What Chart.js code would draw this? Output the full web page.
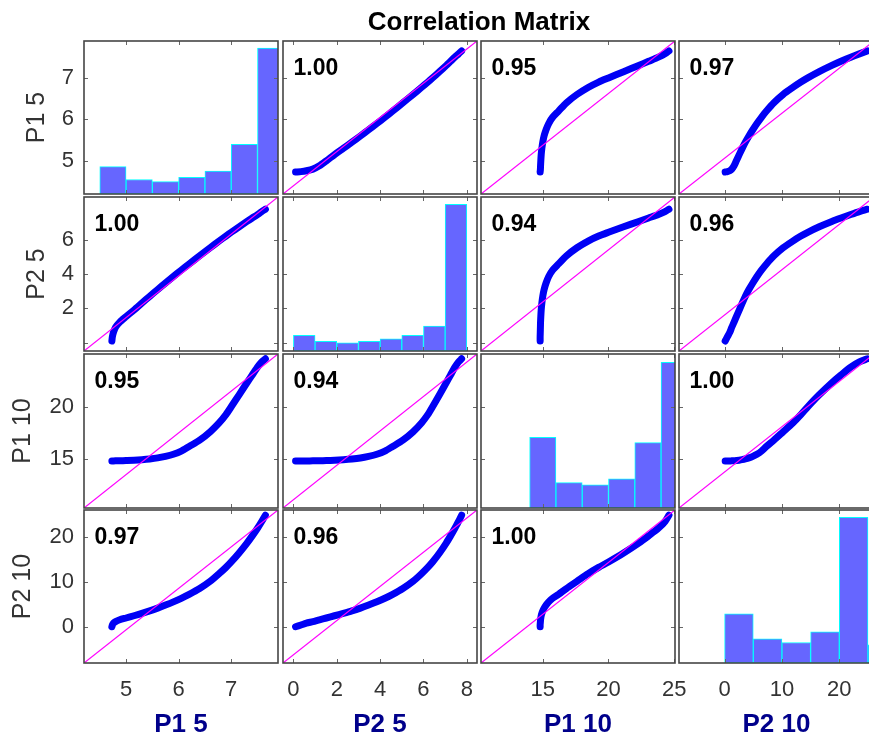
<!DOCTYPE html>
<html>
<head>
<meta charset="utf-8">
<title>Correlation Matrix</title>
<script src="https://cdn.jsdelivr.net/npm/chart.js@4.4.0/dist/chart.umd.min.js"></script>
<style>
  html, body { margin: 0; padding: 0; background: #fff; }
  #wrap { position: relative; width: 869px; height: 743px; overflow: hidden; background: #fff;
          font-family: "Liberation Sans", Arial, sans-serif; }
  #wrap canvas { position: absolute; }
  .title { position: absolute; left: 179px; width: 600px; top: 8px; text-align: center;
           font-weight: bold; font-size: 26px; line-height: 26px; color: #000; }
  .corr { position: absolute; font-weight: bold; font-size: 23px; line-height: 23px; color: #000; }
</style>
</head>
<body>
<div id="wrap">
  <div class="title">Correlation Matrix</div>
</div>
<script>
// variable names (rows top to bottom, columns left to right)
const varNames = ['P1 5', 'P2 5', 'P1 10', 'P2 10'];

// sorted sample values (same quantiles in every array)
const P1_5  = [4.73, 4.74, 4.76, 4.80, 4.88, 5.00, 5.15, 5.30, 5.45, 5.60, 5.75, 5.90, 6.05,
               6.20, 6.40, 6.60, 6.77, 6.90, 7.00, 7.15, 7.30, 7.40, 7.50, 7.58, 7.65];
const P2_5  = [0.10, 0.35, 0.60, 0.90, 1.20, 1.52, 1.90, 2.30, 2.70, 3.09, 3.47, 3.85, 4.22,
               4.58, 5.05, 5.52, 5.91, 6.20, 6.42, 6.74, 7.05, 7.25, 7.45, 7.62, 7.76];
const P1_10 = [14.80, 14.80, 14.81, 14.82, 14.83, 14.85, 14.88, 14.93, 15.00, 15.10, 15.25, 15.45, 15.75,
               16.20, 16.80, 17.60, 18.45, 19.25, 20.00, 21.15, 22.30, 23.05, 23.80, 24.30, 24.60];
const P2_10 = [0.10, 0.50, 0.90, 1.25, 1.65, 2.05, 2.55, 3.07, 3.62, 4.24, 4.92, 5.64, 6.43,
               7.30, 8.60, 10.20, 11.90, 13.30, 14.50, 16.50, 18.70, 20.30, 22.00, 23.50, 24.90];

// histograms on the diagonal (bin centres, bar tops in the row's axis units)
const P1_5_binCenters  = [4.75, 5.25, 5.75, 6.25, 6.75, 7.25, 7.75];
const P1_5_binHeights  = [4.86, 4.55, 4.50, 4.60, 4.75, 5.40, 7.72];
const P2_5_binCenters  = [0.5, 1.5, 2.5, 3.5, 4.5, 5.5, 6.5, 7.5];
const P2_5_binHeights  = [0.43, 0.08, 0.00, 0.08, 0.23, 0.43, 0.97, 8.04];
const P1_10_binCenters = [15, 17, 19, 21, 23, 25];
const P1_10_binHeights = [17.07, 12.73, 12.51, 13.09, 16.56, 24.27];
const P2_10_binCenters = [2.5, 7.5, 12.5, 17.5, 22.5, 27.5];
const P2_10_binHeights = [3.0, -2.6, -3.4, -1.0, 24.4, -3.9];

// correlation coefficients shown in the off-diagonal panels
const corrRow1 = [null, 1.00, 0.95, 0.97];
const corrRow2 = [1.00, null, 0.94, 0.96];
const corrRow3 = [0.95, 0.94, null, 1.00];
const corrRow4 = [0.97, 0.96, 1.00, null];

// axis limits per variable
const axisRanges = [[4.2, 7.89], [-0.48, 8.47], [10.3, 25.06], [-7.95, 26.05]];

// ticks
const xTicks = [[5, 6, 7], [0, 2, 4, 6, 8], [15, 20, 25], [0, 10, 20]];
const xTickLabels = [['5', '6', '7'], ['0', '2', '4', '6', '8'], ['15', '20', '25'], ['0', '10', '20']];
const yTicks = [[5, 6, 7], [0, 2, 4, 6], [15, 20], [0, 10, 20]];
const yTickLabels = [['5', '6', '7'], ['', '2', '4', '6'], ['15', '20'], ['0', '10', '20']];

const samples = [P1_5, P2_5, P1_10, P2_10];
const binCenters = [P1_5_binCenters, P2_5_binCenters, P1_10_binCenters, P2_10_binCenters];
const binHeights = [P1_5_binHeights, P2_5_binHeights, P1_10_binHeights, P2_10_binHeights];
const corr = [corrRow1, corrRow2, corrRow3, corrRow4];

// panel layout (pixels)
const colLeft = [84, 283, 481, 679];
const colRight = [278, 477, 675, 874];
const rowTop = [41, 197, 354, 510];
const rowBottom = [194, 351, 508, 663];
const M = 14;              // spare canvas margin so labels are not cut
const yAxisWidth = 84;
const xAxisHeight = 80;
const yTitlePad = [22, 22, 8, 8];

Chart.defaults.font.family = '"Liberation Sans", Arial, sans-serif';

// box around each panel and small inward tick marks on all four sides
const framePlugin = {
    id: 'frame',
    afterDatasetsDraw(chart) {
        const {ctx, chartArea: a, scales: {x, y}} = chart;
        ctx.save();
        ctx.strokeStyle = '#666';
        ctx.lineWidth = 1;
        ctx.beginPath();
        x.ticks.forEach(t => {
            const px = Math.round(x.getPixelForValue(t.value)) + 0.5;
            ctx.moveTo(px, a.bottom); ctx.lineTo(px, a.bottom - 4);
            ctx.moveTo(px, a.top); ctx.lineTo(px, a.top + 4);
        });
        y.ticks.forEach(t => {
            const py = Math.round(y.getPixelForValue(t.value)) + 0.5;
            ctx.moveTo(a.left, py); ctx.lineTo(a.left + 4, py);
            ctx.moveTo(a.right, py); ctx.lineTo(a.right - 4, py);
        });
        ctx.stroke();
        ctx.strokeStyle = '#454545';
        ctx.lineWidth = 1.6;
        ctx.strokeRect(a.left, a.top, a.right - a.left, a.bottom - a.top);
        ctx.restore();
    }
};

const wrap = document.getElementById('wrap');

for (let r = 0; r < 4; r++) {
    for (let c = 0; c < 4; c++) {
        const isLeft = c === 0;
        const isBottom = r === 3;
        const xr = axisRanges[c];
        const yr = axisRanges[r];

        const left = isLeft ? 0 : colLeft[c] - M;
        const top = rowTop[r] - M;
        const right = colRight[c] + M;
        const bottom = isBottom ? 743 : rowBottom[r] + M;

        const canvas = document.createElement('canvas');
        canvas.width = right - left;
        canvas.height = bottom - top;
        canvas.style.left = left + 'px';
        canvas.style.top = top + 'px';
        canvas.style.width = (right - left) + 'px';
        canvas.style.height = (bottom - top) + 'px';
        wrap.appendChild(canvas);

        let type, datasets;
        if (r === c) {
            type = 'bar';
            datasets = [{
                data: binCenters[c].map((v, i) => ({x: v, y: [yr[0], binHeights[c][i]]})),
                backgroundColor: '#6666ff',
                borderColor: '#00ffff',
                borderWidth: 1,
                borderSkipped: false,
                barPercentage: 1,
                categoryPercentage: 1,
                clip: 0
            }];
        } else {
            type = 'scatter';
            datasets = [
                {
                    data: [{x: xr[0], y: yr[0]}, {x: xr[1], y: yr[1]}],
                    showLine: true,
                    borderColor: '#ff00ff',
                    borderWidth: 1.2,
                    pointRadius: 0,
                    clip: 0,
                    order: 0
                },
                {
                    data: samples[c].map((v, i) => ({x: v, y: samples[r][i]})),
                    showLine: true,
                    borderColor: '#0000f5',
                    borderWidth: 7,
                    borderCapStyle: 'round',
                    borderJoinStyle: 'round',
                    tension: 0.25,
                    pointRadius: 0,
                    clip: 0,
                    order: 1
                }
            ];
        }

        new Chart(canvas, {
            type: type,
            data: {datasets: datasets},
            options: {
                responsive: false,
                animation: false,
                devicePixelRatio: 1,
                events: [],
                layout: {
                    autoPadding: false,
                    padding: {left: isLeft ? 0 : M, right: M, top: M, bottom: isBottom ? 0 : M}
                },
                plugins: {legend: {display: false}, tooltip: {enabled: false}},
                scales: {
                    x: {
                        type: 'linear',
                        min: xr[0],
                        max: xr[1],
                        offset: false,
                        beginAtZero: false,
                        grid: {display: false, drawTicks: false},
                        border: {display: false},
                        afterBuildTicks: s => { s.ticks = xTicks[c].map(v => ({value: v})); },
                        afterFit: s => {
                            s.height = isBottom ? xAxisHeight : 0;
                            s.paddingLeft = 0; s.paddingRight = 0;
                        },
                        ticks: {
                            display: isBottom,
                            autoSkip: false,
                            maxRotation: 0,
                            padding: 14,
                            color: '#333',
                            font: {size: 22},
                            callback: (v, i) => xTickLabels[c][i]
                        },
                        title: {
                            display: isBottom,
                            text: varNames[c],
                            color: '#00008b',
                            font: {size: 26, weight: 'bold'},
                            padding: {top: 0, bottom: 3}
                        }
                    },
                    y: {
                        type: 'linear',
                        min: yr[0],
                        max: yr[1],
                        beginAtZero: false,
                        grid: {display: false, drawTicks: false},
                        border: {display: false},
                        afterBuildTicks: s => { s.ticks = yTicks[r].map(v => ({value: v})); },
                        afterFit: s => {
                            s.width = isLeft ? yAxisWidth : 0;
                            s.paddingTop = 0; s.paddingBottom = 0;
                        },
                        ticks: {
                            display: isLeft,
                            autoSkip: false,
                            padding: 10,
                            color: '#333',
                            font: {size: 22},
                            callback: (v, i) => yTickLabels[r][i]
                        },
                        title: {
                            display: isLeft,
                            text: varNames[r],
                            color: '#333',
                            font: {size: 25},
                            padding: {top: yTitlePad[r], bottom: 0}
                        }
                    }
                }
            },
            plugins: [framePlugin]
        });
    }
}

// correlation coefficients as text in the panels
for (let r = 0; r < 4; r++) {
    for (let c = 0; c < 4; c++) {
        if (corr[r][c] === null) continue;
        const d = document.createElement('div');
        d.className = 'corr';
        d.textContent = corr[r][c].toFixed(2);
        d.style.left = (colLeft[c] + 10.5) + 'px';
        d.style.top = (rowTop[r] + 15) + 'px';
        wrap.appendChild(d);
    }
}
// keep the title above the canvases
wrap.appendChild(wrap.querySelector('.title'));
</script>
</body>
</html>
